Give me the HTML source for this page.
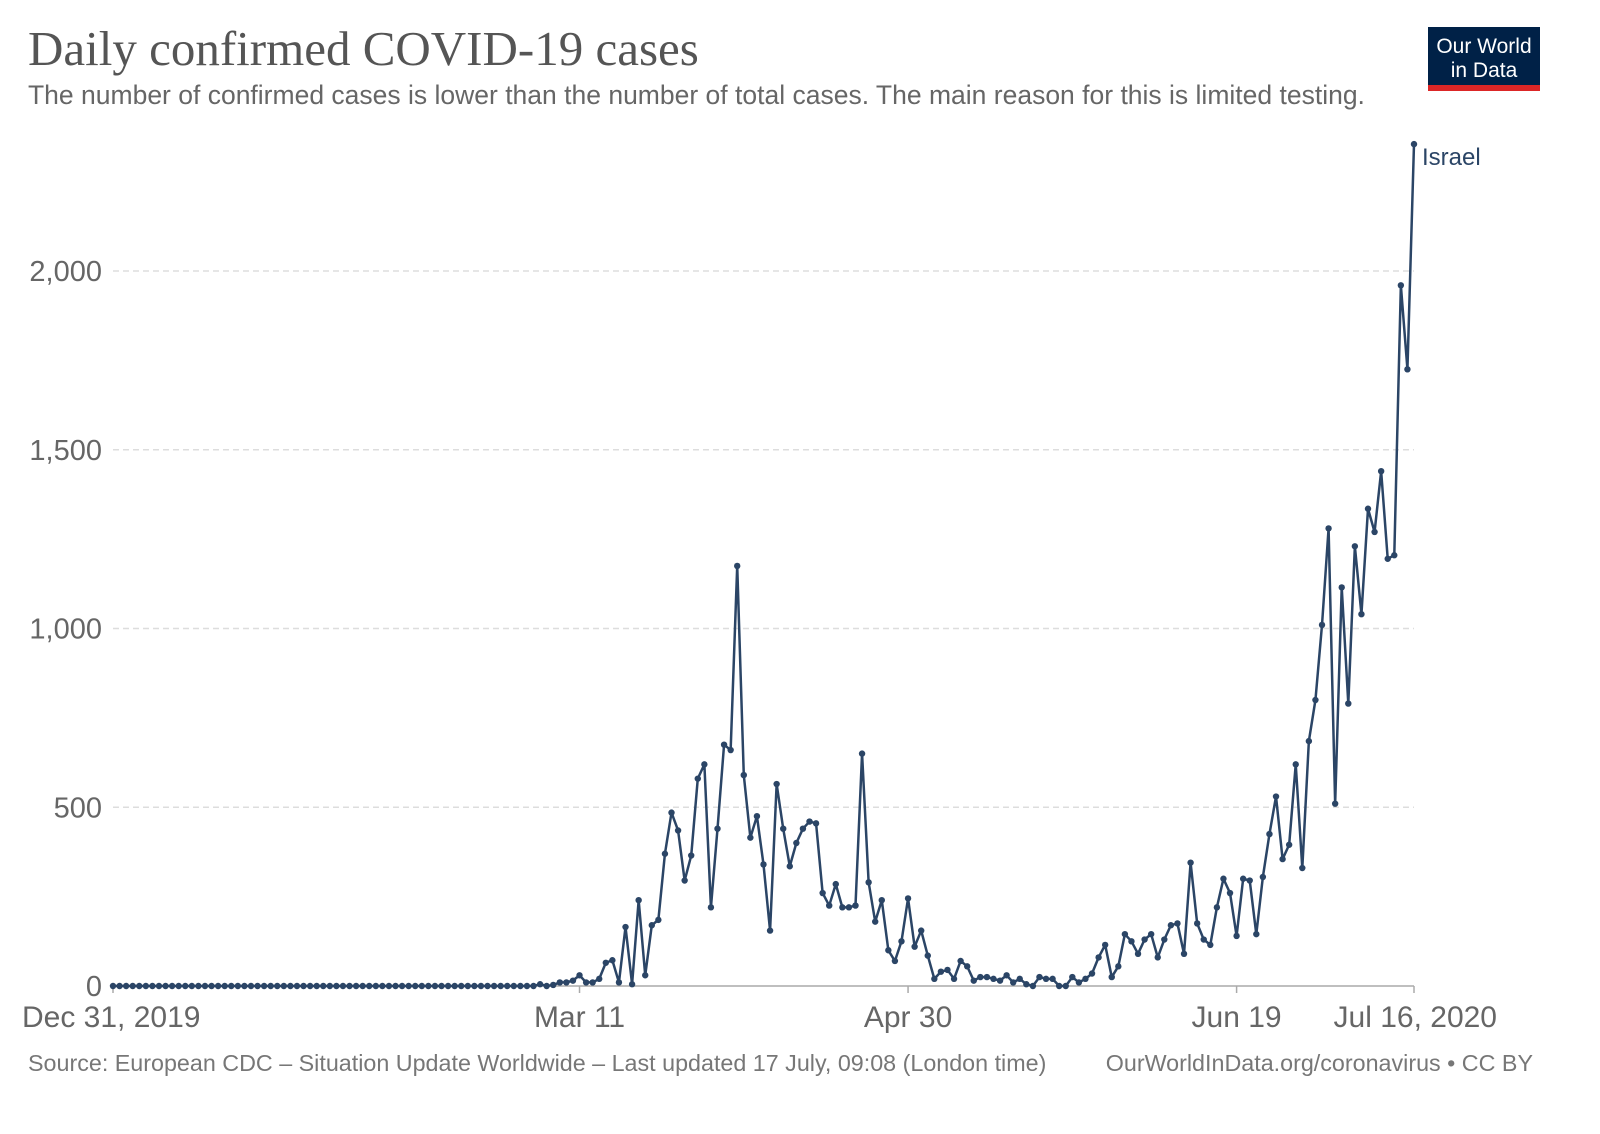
<!DOCTYPE html>
<html><head><meta charset="utf-8"><style>
body{margin:0;background:#fff;width:1600px;height:1129px;overflow:hidden;font-family:"Liberation Sans",sans-serif}
</style></head><body>
<svg id="chart" width="1600" height="1129" xmlns="http://www.w3.org/2000/svg">
<text x="28" y="65" font-family="Liberation Serif" font-size="49" fill="#555">Daily confirmed COVID-19 cases</text>
<text x="28" y="104" font-size="26.5" fill="#666">The number of confirmed cases is lower than the number of total cases. The main reason for this is limited testing.</text>
<g>
<rect x="1428" y="27" width="112" height="58" fill="#002147"/>
<rect x="1428" y="85" width="112" height="6" fill="#dc2626"/>
<text x="1484" y="53" font-size="21" fill="#fff" text-anchor="middle">Our World</text>
<text x="1484" y="77" font-size="21" fill="#fff" text-anchor="middle">in Data</text>
</g>
<g id="grid"></g><g id="yt"></g><g id="xt"></g><g id="series"></g>
<text x="1422" y="165" font-size="24" fill="#2b4566">Israel</text>
<text x="28" y="1071" font-size="23.3" fill="#777">Source: European CDC – Situation Update Worldwide – Last updated 17 July, 09:08 (London time)</text>
<text x="1533" y="1071" font-size="23.3" fill="#777" text-anchor="end">OurWorldInData.org/coronavirus • CC BY</text>
</svg>
<script>
const yTicks=[0,500,1000,1500,2000];
const yTickLabels=["0","500","1,000","1,500","2,000"];
const xTickDays=[0,71,121,171,198];
const xTickLabels=["Dec 31, 2019","Mar 11","Apr 30","Jun 19","Jul 16, 2020"];
const leadingZeroDays=65;
const laterCases=[5,0,3,10,10,15,30,10,10,20,65,72,10,165,5,240,30,170,185,370,485,435,295,365,580,620,220,440,675,660,1175,590,415,475,340,155,565,440,335,400,440,460,455,260,225,285,220,220,225,650,290,180,240,100,70,125,245,110,155,85,20,40,45,20,70,55,15,25,25,20,15,30,10,20,5,0,25,20,20,0,0,25,10,20,35,80,115,25,55,145,125,90,130,145,80,130,170,175,90,345,175,130,115,220,300,260,140,300,295,145,305,425,530,355,395,620,330,685,800,1010,1280,510,1115,790,1230,1040,1335,1270,1440,1195,1205,1960,1725,2355];
const cases=new Array(leadingZeroDays).fill(0).concat(laterCases);
const NS="http://www.w3.org/2000/svg";
const X=d=>113+d*(1414-113)/198;
const Y=v=>986-v*0.3575;
function mk(t,a){const e=document.createElementNS(NS,t);for(const k in a)e.setAttribute(k,a[k]);return e;}
const grid=document.getElementById('grid'),yt=document.getElementById('yt'),xt=document.getElementById('xt'),ser=document.getElementById('series');
yTicks.forEach((v,i)=>{
 if(v>0){const l=mk('line',{x1:113,x2:1414,y1:Y(v),y2:Y(v),stroke:'#ddd','stroke-width':1.5,'stroke-dasharray':'6,4'});
 
 
 grid.appendChild(l);}
 const t=mk('text',{x:102,y:Y(v)+10,'font-size':29,fill:'#666','text-anchor':'end'});t.textContent=yTickLabels[i];
 
 
 yt.appendChild(t);
});
const ax=mk('line',{x1:113,x2:1414,y1:986,y2:986,stroke:'#aaa','stroke-width':1.5});


xt.appendChild(ax);
xTickDays.forEach((d,i)=>{
 const tk=mk('line',{x1:X(d),x2:X(d),y1:986,y2:993,stroke:'#aaa','stroke-width':1.5});
 
 
 xt.appendChild(tk);
 const t=mk('text',{x:X(d),y:1027,'font-size':30,fill:'#666','text-anchor':'middle'});
 if(i==0){t.setAttribute('text-anchor','start');t.setAttribute('x',22);}
 if(i==xTickDays.length-1){t.setAttribute('text-anchor','end');t.setAttribute('x',1497);}
 t.textContent=xTickLabels[i];
 
 
 xt.appendChild(t);
});
const p=mk('polyline',{points:cases.map((v,d)=>X(d)+','+Y(v)).join(' '),fill:'none',stroke:'#2b4566','stroke-width':2.5,'stroke-linejoin':'round'});


ser.appendChild(p);
cases.forEach((v,d)=>{const c=mk('circle',{cx:X(d),cy:Y(v),r:3.2,fill:'#2b4566'});
 
 
 ser.appendChild(c);});
</script>
</body></html>
